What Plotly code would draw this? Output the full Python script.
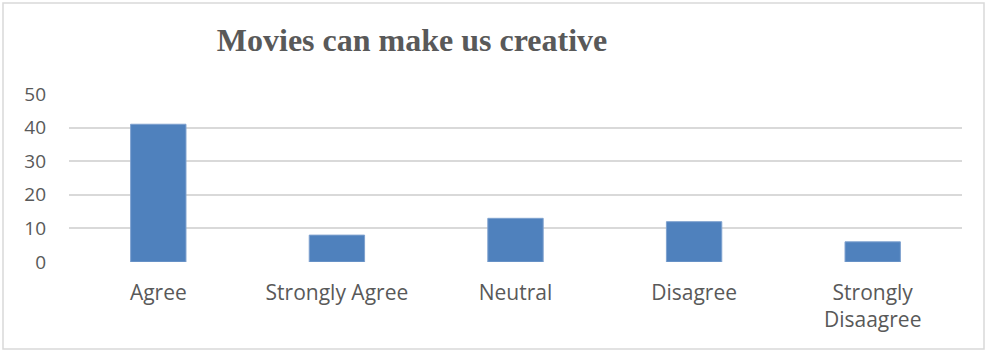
import plotly.graph_objects as go

# Survey responses
categories = ["Agree", "Strongly Agree", "Neutral", "Disagree", "Strongly<br>Disaagree"]
counts = [41, 8, 13, 12, 6]
y_ticks = [0, 10, 20, 30, 40, 50]

W, H = 986, 351
L, R, T, B = 69, 24, 94, 89  # plot-area margins in pixels

fig = go.Figure(
    go.Bar(
        x=categories,
        y=counts,
        marker=dict(color="#4F81BD", line=dict(color="#7EA1CF", width=1)),
        width=0.31,
    )
)

# Chart border in paper coordinates derived from pixel positions
pw, ph = W - L - R, H - T - B
def px_x(p):
    return (p - L) / pw
def px_y(p):
    return (H - B - p) / ph

fig.add_shape(
    type="rect", xref="paper", yref="paper",
    x0=px_x(3), x1=px_x(984), y0=px_y(349), y1=px_y(3),
    line=dict(color="#D9D9D9", width=1.5), fillcolor="rgba(0,0,0,0)", layer="below",
)

fig.update_layout(
    width=W, height=H,
    margin=dict(l=L, r=R, t=T, b=B),
    paper_bgcolor="white", plot_bgcolor="white",
    showlegend=False,
    title=dict(
        text="<b>Movies can make us creative</b>",
        font=dict(family="Liberation Serif", size=32, color="#595959"),
        x=px_x(412), xanchor="center", xref="paper",
        y=1 - 40 / H, yanchor="middle",
    ),
    font=dict(family="Open Sans", size=20, color="#595959"),
)
fig.update_xaxes(
    showline=False, showgrid=False, zeroline=False,
    ticks="", ticklabelstandoff=16,
    tickfont=dict(family="Open Sans", size=21, color="#595959"),
)
fig.update_yaxes(
    range=[0, 50], tickvals=y_ticks,
    showgrid=True, gridcolor="#D9D9D9", gridwidth=1.5,
    zeroline=False, showline=False, ticks="", ticklabelstandoff=22,
    tickfont=dict(family="Open Sans", size=19, color="#595959"),
)

fig.write_html("out.html")
